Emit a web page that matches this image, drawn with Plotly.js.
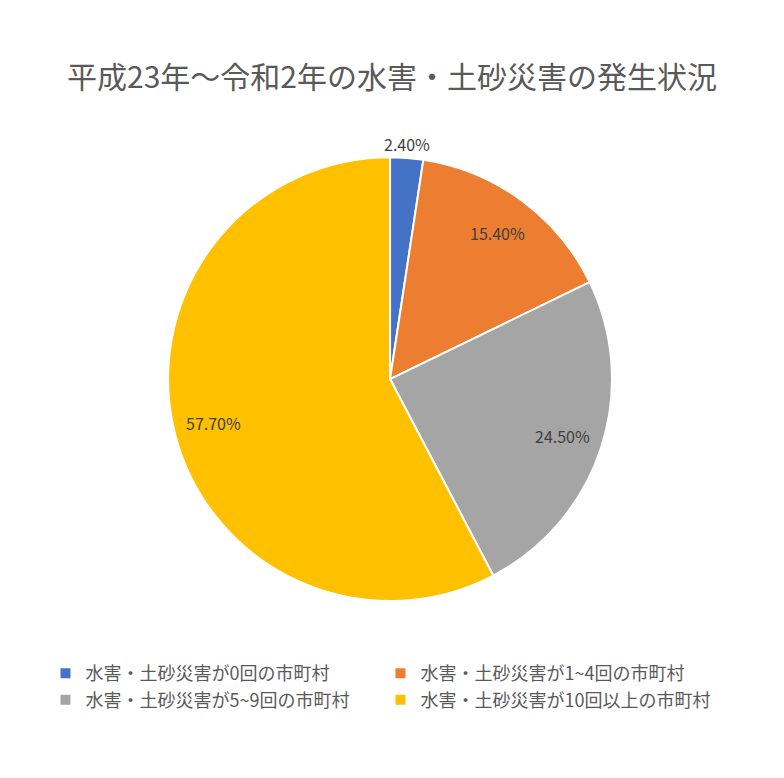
<!DOCTYPE html>
<html>
<head>
<meta charset="utf-8">
<script src="https://cdn.plot.ly/plotly-3.0.1.min.js"></script>
<style>
  html, body { margin: 0; padding: 0; background: #ffffff; }
  #chart { width: 784px; height: 778px; }
</style>
</head>
<body>
<div id="chart"></div>
<script>
  const categorias = [
    '水害・土砂災害が0回の市町村',
    '水害・土砂災害が1~4回の市町村',
    '水害・土砂災害が5~9回の市町村',
    '水害・土砂災害が10回以上の市町村'
  ];
  const percentuais = [2.4, 15.4, 24.5, 57.7];
  const rotulos = ['2.40%', '15.40%', '24.50%', '57.70%'];
  const cores = ['#4472c4', '#ed7d31', '#a5a5a5', '#ffc000'];

  const fonte = '"Noto Sans CJK JP", "Noto Sans", sans-serif';
  const W = 784, H = 778;
  const dominioX = [0.214, 0.781];
  const dominioY = [0.2275, 0.798];

  // rótulos no estilo do Excel: no ângulo médio da fatia, perto da borda
  function criarRotulos() {
    const total = percentuais.reduce((a, b) => a + b, 0);
    const cx = (dominioX[0] + dominioX[1]) / 2 * W;
    const cy = (1 - (dominioY[0] + dominioY[1]) / 2) * H;
    const raio = Math.min((dominioX[1] - dominioX[0]) * W, (dominioY[1] - dominioY[0]) * H) / 2;
    let acumulado = 0;
    return percentuais.map((v, i) => {
      const meio = (acumulado + v / 2) / total * 2 * Math.PI;
      acumulado += v;
      const fora = v / total < 0.05;
      const r = fora ? raio * 1.0 : raio * 0.82;
      const px = cx + r * Math.sin(meio);
      const py = cy - r * Math.cos(meio);
      return {
        text: rotulos[i],
        x: px / W,
        y: 1 - py / H,
        xref: 'paper',
        yref: 'paper',
        xanchor: 'center',
        yanchor: fora ? 'bottom' : 'middle',
        showarrow: false,
        font: { family: fonte, size: 16, color: '#404040' }
      };
    });
  }

  const trace = {
    type: 'pie',
    labels: categorias,
    values: percentuais,
    sort: false,
    direction: 'clockwise',
    rotation: 0,
    marker: { colors: cores, line: { color: '#ffffff', width: 2 } },
    textinfo: 'none',
    textposition: 'none',
    hoverinfo: 'label+percent',
    domain: { x: dominioX, y: dominioY }
  };

  const layout = {
    width: W,
    height: H,
    title: {
      text: '平成23年～令和2年の水害・土砂災害の発生状況',
      font: { family: fonte, size: 30, color: '#595959' },
      x: 0.5,
      xanchor: 'center',
      y: 0.9,
      yanchor: 'middle'
    },
    showlegend: true,
    legend: {
      orientation: 'h',
      x: 0.058,
      xanchor: 'left',
      y: 0.158,
      yanchor: 'top',
      entrywidth: 290,
      traceorder: 'normal',
      itemwidth: 30,
      tracegroupgap: 0,
      font: { family: fonte, size: 18, color: '#595959' }
    },
    annotations: criarRotulos(),
    margin: { t: 0, b: 0, l: 0, r: 0 },
    paper_bgcolor: '#ffffff',
    plot_bgcolor: '#ffffff'
  };

  Plotly.newPlot('chart', [trace], layout, { displayModeBar: false, responsive: false });
</script>
</body>
</html>
